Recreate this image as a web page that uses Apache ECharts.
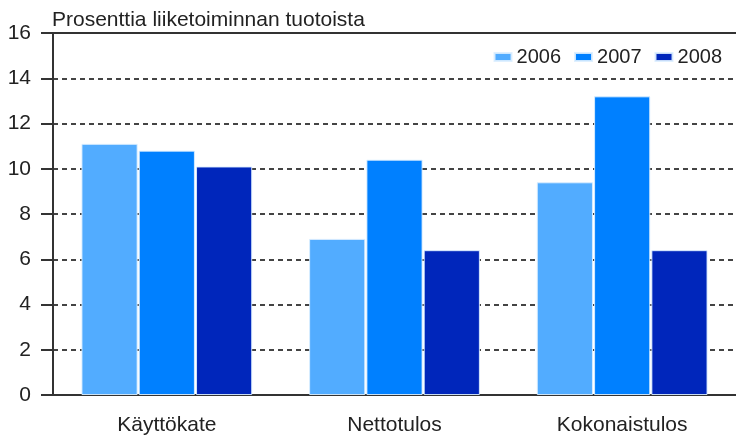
<!DOCTYPE html>
<html>
<head>
<meta charset="utf-8">
<script src="https://cdn.jsdelivr.net/npm/echarts@6/dist/echarts.min.js"></script>
<style>
  html, body { margin: 0; padding: 0; background: #fff; }
  #chart { width: 736px; height: 436px; }
</style>
</head>
<body>
<div id="chart"></div>
<script>
const categories = ['Käyttökate', 'Nettotulos', 'Kokonaistulos']
const years = ['2006', '2007', '2008']
const values2006 = [11.1, 6.9, 9.4]
const values2007 = [10.8, 10.4, 13.2]
const values2008 = [10.1, 6.4, 6.4]
const colors = ['#52acff', '#0080ff', '#0026bb']
const yTicks = { min: 0, max: 16, interval: 2 }

const font = '"Liberation Sans", Arial, sans-serif'
const textColor = '#222'

const chart = echarts.init(document.getElementById('chart'))

const makeSeries = (name, data, color) => ({
  name,
  type: 'bar',
  data,
  barGap: '2%',
  barCategoryGap: '25%',
  itemStyle: {
    color,
    borderColor: 'rgba(220, 238, 255, 0.9)',
    borderWidth: 1
  }
})

const option = {
  animation: false,
  backgroundColor: '#fff',
  title: {
    text: 'Prosenttia liiketoiminnan tuotoista',
    left: 47,
    top: 5,
    textStyle: {
      fontFamily: font,
      fontSize: 21,
      fontWeight: 'normal',
      color: textColor
    }
  },
  legend: {
    data: years,
    right: 9,
    top: 42,
    itemWidth: 17,
    itemHeight: 8,
    itemGap: 13,
    icon: 'rect',
    textStyle: {
      fontFamily: font,
      fontSize: 20,
      color: textColor
    }
  },
  grid: {
    left: 53,
    right: 0,
    top: 33,
    bottom: 41,
    containLabel: false
  },
  xAxis: [
    {
      type: 'category',
      data: categories,
      axisLine: { lineStyle: { color: '#333', width: 2 } },
      axisTick: { alignWithLabel: true, length: 10, lineStyle: { color: '#333', width: 2 } },
      axisLabel: {
        fontFamily: font,
        fontSize: 21,
        color: textColor,
        margin: 20
      }
    },
    {
      type: 'category',
      position: 'top',
      data: categories,
      axisLine: { lineStyle: { color: '#333', width: 2 } },
      axisTick: { show: false },
      axisLabel: { show: false }
    }
  ],
  yAxis: {
    type: 'value',
    min: yTicks.min,
    max: yTicks.max,
    interval: yTicks.interval,
    axisLine: { show: true, lineStyle: { color: '#333', width: 2 } },
    axisTick: { show: true, length: 12, lineStyle: { color: '#333', width: 2 } },
    axisLabel: {
      fontFamily: font,
      fontSize: 21,
      color: textColor,
      margin: 22
    },
    splitLine: {
      lineStyle: {
        color: '#444',
        width: 2,
        type: [5, 4]
      }
    }
  },
  series: [
    makeSeries(years[0], values2006, colors[0]),
    makeSeries(years[1], values2007, colors[1]),
    makeSeries(years[2], values2008, colors[2])
  ]
}

chart.setOption(option)
</script>
</body>
</html>
